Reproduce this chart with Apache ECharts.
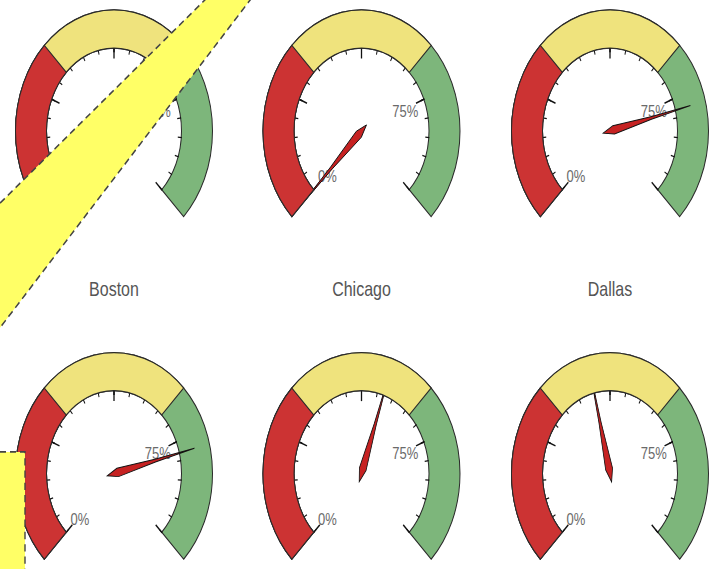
<!DOCTYPE html>
<html>
<head>
<meta charset="utf-8">
<script src="https://cdn.jsdelivr.net/npm/echarts@6/dist/echarts.min.js"></script>
<style>
  html, body { margin: 0; padding: 0; background: #fff; overflow: hidden; }
  #wrap { width: 711px; height: 569px; overflow: hidden; position: relative; }
  /* gauges are drawn on a 711x463 surface and stretched vertically to fill the page */
  #chart { width: 711px; height: 463px; transform-origin: 0 0; transform: scale(1, 1.2289); }
</style>
</head>
<body>
<div id="wrap"><div id="chart"></div></div>
<script>
// Gauge readings (percent) and their city names, row by row
const gaugeNames = ['Boston', 'Chicago', 'Dallas', '', '', ''];
const needleValues = [70, 0, 78, 78, 57, 45];

// Coloured bands: upper limit of each band and its colour
const bandEnds = [33.33, 66.67, 100];
const bandColors = ['#cc3333', '#efe37d', '#7db67b'];

// Only these scale values carry a label
const tickLabelText = { 0: '0%', 75: '75%' };

// Layout (px, on the unstretched drawing surface)
const SY = 569 / 463;
const colX = [114, 361.5, 610];
const rowY = [106.6, 385.4];
const R = 98.5;
const BAND = 31;
const FONT = '"Liberation Sans", Arial, Helvetica, sans-serif';
const LABEL_GREY = '#6a6a6a';

const chart = echarts.init(document.getElementById('chart'), null, { renderer: 'svg', width: 711, height: 463 });

const series = [];
gaugeNames.forEach((name, i) => {
  const center = [colX[i % 3], rowY[Math.floor(i / 3)]];
  const common = {
    type: 'gauge', center: center, radius: R,
    startAngle: 225, endAngle: -45, min: 0, max: 100,
    anchor: { show: false }, detail: { show: false }
  };
  // coloured ring, outlined band by band
  series.push(Object.assign({}, common, {
    silent: true,
    axisLine: { show: false, lineStyle: { width: BAND } },
    progress: { show: true, overlap: true, width: BAND, roundCap: false },
    splitLine: { show: false }, axisTick: { show: false }, axisLabel: { show: false },
    pointer: { show: false }, title: { show: false },
    data: bandEnds.map((v, k) => ({
      value: v,
      itemStyle: { color: bandColors[k], borderColor: '#2a2a2a', borderWidth: 1 }
    })).reverse()
  }));
  // scale, needle and caption
  series.push(Object.assign({}, common, {
    splitNumber: 4,
    axisLine: { show: false, lineStyle: { width: BAND } },
    splitLine: { show: true, distance: -0.5, length: 9, lineStyle: { color: '#111', width: 1.3 } },
    axisTick: { show: true, splitNumber: 5, distance: -0.5, length: 4, lineStyle: { color: '#111', width: 1 } },
    axisLabel: {
      show: true, distance: 28.5, color: LABEL_GREY, fontSize: 13, fontFamily: FONT,
      formatter: v => (v === 0 ? '{lo|' : '{hi|') + (tickLabelText[v] || '') + '}',
      rich: {
        lo: { color: LABEL_GREY, fontSize: 13, fontFamily: FONT, padding: [0, 0, 13, 0] },
        hi: { color: LABEL_GREY, fontSize: 13, fontFamily: FONT, padding: [15, 0, 0, 0] }
      }
    },
    pointer: {
      show: true,
      icon: 'path://M5,0 L6.6,45 L10,88 L5,100 L0,88 L3.4,45 Z',
      length: 90, width: 7, offsetCenter: [0, 7],
      itemStyle: { color: '#c62222', borderColor: '#111', borderWidth: 0.8 }
    },
    title: { show: true, offsetCenter: [0, 128.6], color: '#555', fontSize: 16, fontFamily: FONT },
    data: [{ value: needleValues[i], name: name }]
  }));
});

// highlighted annotation areas
const toSurface = pts => pts.map(p => [p[0], p[1] / SY]);
const markStyle = { fill: '#ffff66', stroke: '#444', lineWidth: 1.4, lineDash: [6, 4] };

chart.setOption({
  animation: false,
  backgroundColor: '#fff',
  series: series,
  graphic: [
    {
      type: 'polygon', z: 100, silent: true,
      shape: { points: toSurface([[225, -20], [265.4, -20], [-20, 354], [-20, 223]]) },
      style: markStyle
    },
    {
      type: 'rect', z: 100, silent: true,
      shape: { x: -10, y: 452 / SY, width: 35, height: 140 / SY },
      style: markStyle
    }
  ]
});
</script>
</body>
</html>
